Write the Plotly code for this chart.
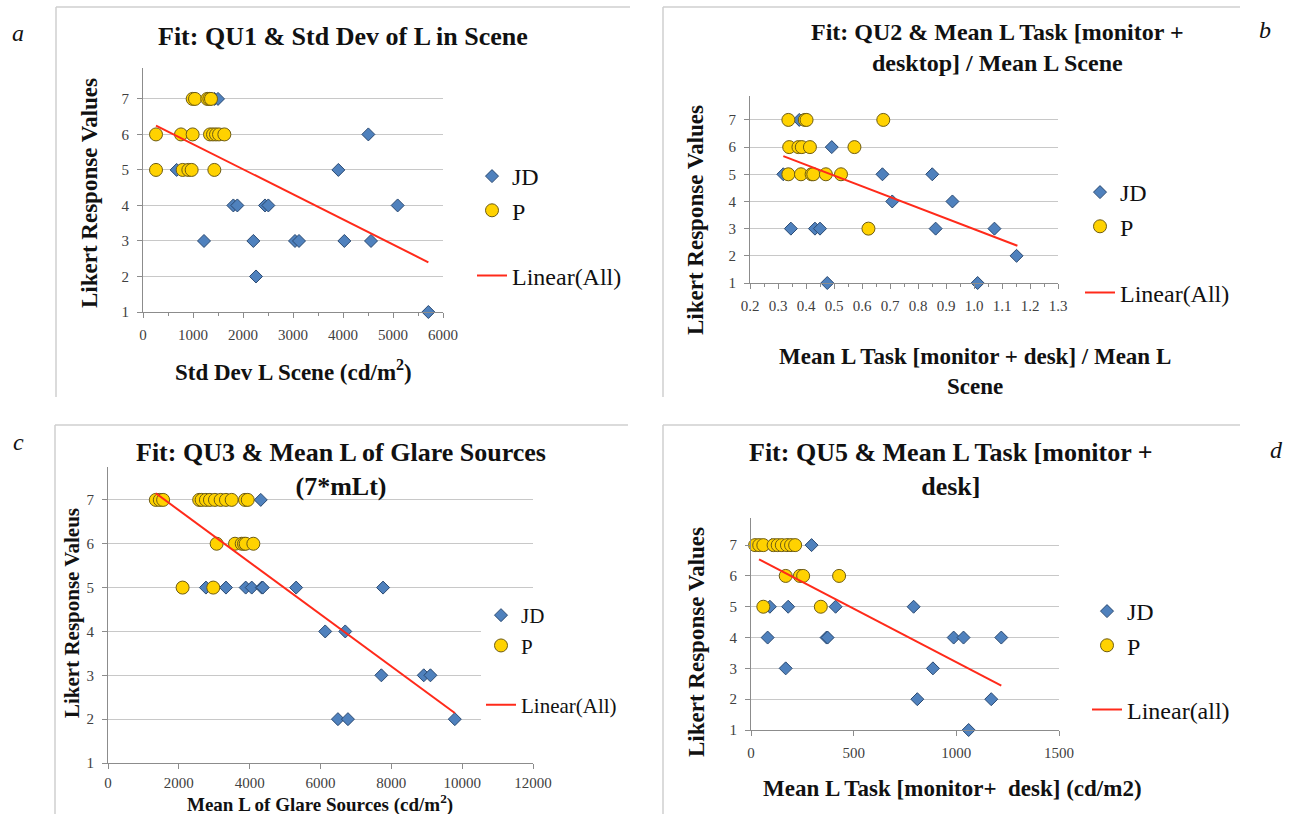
import plotly.graph_objects as go

W, H = 1293, 814
SERIF = "Liberation Serif"


def fx(p):
    return p / W


def fy(p):
    return 1 - p / H


# ---------------- data ----------------
# Panel a : QU1 vs Std Dev of L in Scene
a_jd_x = [1430, 1500, 4507, 673, 3907, 1807, 1887, 2440, 2507, 5093,
          1220, 2207, 3040, 3120, 4027, 4560, 2260, 5707]
a_jd_y = [7, 7, 6, 5, 5, 4, 4, 4, 4, 4, 3, 3, 3, 3, 3, 3, 2, 1]
a_p_x = [993, 1040, 1287, 1327, 1360, 260, 760, 993, 1340, 1400, 1460, 1520,
         1627, 260, 793, 907, 973, 1427]
a_p_y = [7, 7, 7, 7, 7, 6, 6, 6, 6, 6, 6, 6, 6, 5, 5, 5, 5, 5]
a_fit_x = [260, 5707]
a_fit_y = [6.25, 2.40]

# Panel b : QU2 vs Mean L Task / Mean L Scene
b_jd_x = [0.376, 0.492, 0.319, 0.673, 0.851, 0.708, 0.923, 0.346, 0.432,
          0.450, 0.863, 1.073, 1.152, 0.476, 1.013]
b_jd_y = [7, 6, 5, 5, 5, 4, 4, 3, 3, 3, 3, 3, 2, 1, 1]
b_p_x = [0.337, 0.396, 0.402, 0.676, 0.340, 0.373, 0.385, 0.414, 0.573,
         0.337, 0.382, 0.420, 0.426, 0.471, 0.525, 0.623]
b_p_y = [7, 7, 7, 7, 6, 6, 6, 6, 6, 5, 5, 5, 5, 5, 5, 3]
b_fit_x = [0.319, 1.155]
b_fit_y = [5.67, 2.37]

# Panel c : QU3 vs Mean L of Glare Sources
c_jd_x = [4313, 2765, 3331, 3888, 4058, 4341, 4370, 5312, 7766, 6133, 6699,
          7718, 8915, 9104, 6492, 6775, 9792]
c_jd_y = [7, 5, 5, 5, 5, 5, 5, 5, 5, 4, 4, 3, 3, 3, 2, 2, 2]
c_p_x = [1350, 1463, 1556, 2575, 2643, 2765, 2878, 3020, 3181, 3331, 3492,
         3869, 3945, 3068, 3586, 3775, 3840, 3888, 4104, 2106, 2972]
c_p_y = [7, 7, 7, 7, 7, 7, 7, 7, 7, 7, 7, 7, 7, 6, 6, 6, 6, 6, 6, 5, 5]
c_fit_x = [1350, 9792]
c_fit_y = [7.15, 2.14]

# Panel d : QU5 vs Mean L Task
d_jd_x = [100, 180, 295, 92, 181, 412, 792, 81, 368, 373, 987, 1035, 1219,
          169, 886, 810, 1170, 1060]
d_jd_y = [7, 7, 7, 5, 5, 5, 5, 4, 4, 4, 4, 4, 4, 3, 3, 2, 2, 1]
d_p_x = [20, 40, 60, 110, 130, 150, 175, 195, 215, 169, 238, 254, 429, 60, 340]
d_p_y = [7, 7, 7, 7, 7, 7, 7, 7, 7, 6, 6, 6, 6, 5, 5]
d_fit_x = [39, 1219]
d_fit_y = [6.54, 2.44]

likert_ticks = [1, 2, 3, 4, 5, 6, 7]

# ---------------- styling ----------------
JD_FILL, JD_LINE = "#4f81bd", "#2b4a72"
P_FILL, P_LINE = "#ffd200", "#6e5c14"
FIT_COLOR = "#ff2a1a"
AXIS_COLOR = "#8c8c8c"
GRID_COLOR = "#c8c8c8"
TICK_FONT = dict(family=SERIF, size=15, color="#404040")

panels = [
    dict(sfx="", leg="legend", jd=(a_jd_x, a_jd_y), p=(a_p_x, a_p_y),
         fit=(a_fit_x, a_fit_y), fitname="Linear(All)",
         xdom=(143, 443), ydom=(312, 68), xr=[0, 6000], yr=[1, 7.87],
         dtick=1000, tick0=0, minor=500, fmt="d", xstand=4,
         legx=472, legy=154, legfs=24, leggap=31),
    dict(sfx="2", leg="legend2", jd=(b_jd_x, b_jd_y), p=(b_p_x, b_p_y),
         fit=(b_fit_x, b_fit_y), fitname="Linear(All)",
         xdom=(750, 1058), ydom=(283, 96), xr=[0.2, 1.3], yr=[1, 7.88],
         dtick=0.1, tick0=0.2, minor=0.05, fmt=".1f", xstand=4,
         legx=1080, legy=170, legfs=24, leggap=32),
    dict(sfx="3", leg="legend3", jd=(c_jd_x, c_jd_y), p=(c_p_x, c_p_y),
         fit=(c_fit_x, c_fit_y), fitname="Linear(All)",
         xdom=(108, 533), ydom=(763, 467), xr=[0, 12000], yr=[1, 7.75],
         dtick=2000, tick0=0, minor=None, fmt="d", xstand=1,
         legx=481, legy=595, legfs=21, leggap=29),
    dict(sfx="4", leg="legend4", jd=(d_jd_x, d_jd_y), p=(d_p_x, d_p_y),
         fit=(d_fit_x, d_fit_y), fitname="Linear(all)",
         xdom=(751, 1059), ydom=(730, 518), xr=[0, 1500], yr=[1, 7.88],
         dtick=500, tick0=0, minor=None, fmt="d", xstand=4,
         legx=1087, legy=589, legfs=24, leggap=30),
]

fig = go.Figure()
layout = dict(width=W, height=H, autosize=False,
              margin=dict(l=0, r=0, t=0, b=0, autoexpand=False),
              paper_bgcolor="white", plot_bgcolor="white",
              showlegend=True)

for i, pn in enumerate(panels):
    xa = "x" + pn["sfx"]
    ya = "y" + pn["sfx"]
    fig.add_trace(go.Scatter(
        x=pn["jd"][0], y=pn["jd"][1], mode="markers", name="JD",
        xaxis=xa, yaxis=ya, legend=pn["leg"], legendgroup="pts" + str(i),
        marker=dict(symbol="diamond", size=10, color=JD_FILL,
                    line=dict(color=JD_LINE, width=1)),
        cliponaxis=False))
    fig.add_trace(go.Scatter(
        x=pn["p"][0], y=pn["p"][1], mode="markers", name="P",
        xaxis=xa, yaxis=ya, legend=pn["leg"], legendgroup="pts" + str(i),
        marker=dict(symbol="circle", size=13, color=P_FILL,
                    line=dict(color=P_LINE, width=1)),
        cliponaxis=False))
    fig.add_trace(go.Scatter(
        x=pn["fit"][0], y=pn["fit"][1], mode="lines", name=pn["fitname"],
        xaxis=xa, yaxis=ya, legend=pn["leg"], legendgroup="fit" + str(i),
        line=dict(color=FIT_COLOR, width=2)))

    xkey = "xaxis" + pn["sfx"]
    ykey = "yaxis" + pn["sfx"]
    xd = dict(domain=[fx(pn["xdom"][0]), fx(pn["xdom"][1])], range=pn["xr"],
              anchor=ya, showline=True, linecolor=AXIS_COLOR, linewidth=1,
              ticks="outside", ticklen=5, tickcolor=AXIS_COLOR, showgrid=False,
              zeroline=False, tickmode="linear", tick0=pn["tick0"],
              dtick=pn["dtick"], tickformat=pn["fmt"], tickfont=TICK_FONT,
              ticklabelstandoff=pn["xstand"])
    if pn["minor"]:
        xd["minor"] = dict(dtick=pn["minor"], ticks="outside", ticklen=3,
                           tickcolor=AXIS_COLOR, showgrid=False)
    layout[xkey] = xd
    layout[ykey] = dict(domain=[fy(pn["ydom"][0]), fy(pn["ydom"][1])],
                        range=pn["yr"], anchor=xa, showline=True,
                        linecolor=AXIS_COLOR, linewidth=1, ticks="outside",
                        ticklen=5, tickcolor=AXIS_COLOR, showgrid=True,
                        gridcolor=GRID_COLOR, gridwidth=1, zeroline=False,
                        tickvals=likert_ticks, tickfont=TICK_FONT,
                        ticklabelstandoff=5)
    layout[pn["leg"]] = dict(x=fx(pn["legx"]), y=fy(pn["legy"]),
                             xanchor="left", yanchor="top",
                             bgcolor="rgba(255,255,255,1)" if i == 2 else "rgba(0,0,0,0)",
                             font=dict(family=SERIF, size=pn["legfs"], color="#111"),
                             tracegroupgap=pn["leggap"], traceorder="grouped",
                             itemsizing="trace")

fig.update_layout(**layout)


def ann(text, x, y, size, angle=0):
    fig.add_annotation(text=text, x=fx(x), y=fy(y), xref="paper", yref="paper",
                       xanchor="center", yanchor="middle", showarrow=False,
                       textangle=angle,
                       font=dict(family=SERIF, size=size, color="#111"))


# panel titles
ann("<b>Fit: QU1 &amp; Std Dev of L in Scene</b>", 343, 37, 26)
ann("<b>Fit: QU2 &amp; Mean L Task [monitor +<br>desktop] / Mean L Scene</b>", 997, 47, 24)
ann("<b>Fit: QU3 &amp; Mean L of Glare Sources<br>(7*mLt)</b>", 341, 470, 26)
ann("<b>Fit: QU5 &amp; Mean L Task [monitor +<br>desk]</b>", 951, 470, 26)

# axis titles
ann("<b>Likert Response Values</b>", 89, 193, 23, angle=-90)
ann("<b>Likert Response Values</b>", 695, 220, 23, angle=-90)
ann("<b>Likert Response Valeus</b>", 72, 613, 21, angle=-90)
ann("<b>Likert Response Values</b>", 696, 642, 23, angle=-90)

ann("<b>Std Dev L Scene (cd/m<sup>2</sup>)</b>", 293, 370, 23)
ann("<b>Mean L Task [monitor + desk] / Mean L<br>Scene</b>", 975, 371, 23)
ann("<b>Mean L of Glare Sources (cd/m<sup>2</sup>)</b>", 320, 803, 19)
ann("<b>Mean L Task [monitor+&nbsp; desk] (cd/m2)</b>", 952, 788, 23)

# panel letters
ann("<i>a</i>", 18, 33, 24)
ann("<i>b</i>", 1265, 30, 24)
ann("<i>c</i>", 18, 442, 24)
ann("<i>d</i>", 1276, 450, 24)

# panel frames (left and top edges)
FRAME = "#cfcfcf"
for (lx, ty, rx, by) in [(56, 7, 630, 397), (663, 7, 1240, 397),
                         (55, 425, 628, 814), (663, 425, 1240, 814)]:
    fig.add_shape(type="line", xref="paper", yref="paper",
                  x0=fx(lx), x1=fx(lx), y0=fy(ty), y1=fy(by),
                  line=dict(color=FRAME, width=1.5), layer="below")
    fig.add_shape(type="line", xref="paper", yref="paper",
                  x0=fx(lx), x1=fx(rx), y0=fy(ty), y1=fy(ty),
                  line=dict(color=FRAME, width=1.5), layer="below")

fig.write_html(
    "out.html",
    config={"displayModeBar": False},
    post_script="document.body.style.margin='0';document.body.style.overflow='hidden';",
)
